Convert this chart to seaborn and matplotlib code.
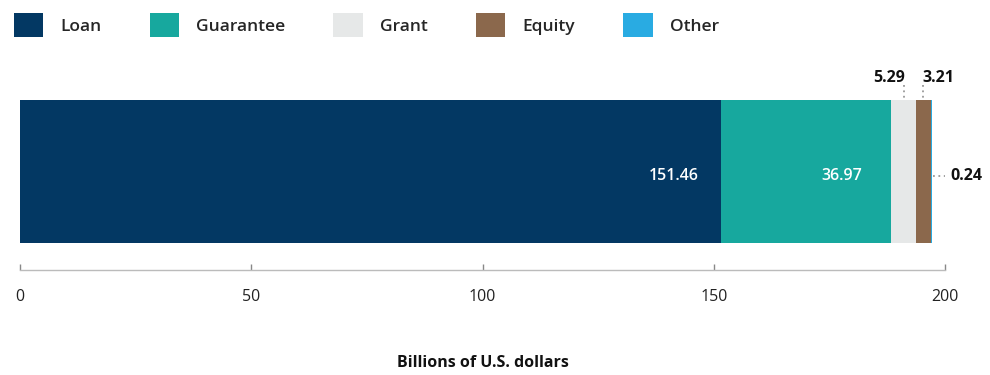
import matplotlib
matplotlib.use("Agg")
import matplotlib.pyplot as plt
import seaborn as sns
import pandas as pd
import numpy as np
from matplotlib.patches import Patch

categories = ["Loan", "Guarantee", "Grant", "Equity", "Other"]
values = [151.46, 36.97, 5.29, 3.21, 0.24]
colors = ["#033863", "#17a89e", "#e6e8e8", "#8b684c", "#29abe2"]
xticks = [0, 50, 100, 150, 200]
xlabel = "Billions of U.S. dollars"

sns.set_theme(style="white")
plt.rcParams["font.family"] = ["Open Sans", "DejaVu Sans"]

fig = plt.figure(figsize=(9.9, 3.75), dpi=100)
ax = fig.add_axes([20 / 990, 1 - 270 / 375, 925 / 990, 210 / 375])

cum = np.cumsum(values)
starts = cum - np.array(values)
df = pd.DataFrame({"cat": categories, "cum": cum, "row": ["all"] * len(categories)})

# painter's stacking: draw largest cumulative first
for i in range(len(categories) - 1, -1, -1):
    sns.barplot(data=df.iloc[[i]], x="cum", y="row", color=colors[i],
                orient="h", width=0.681, ax=ax, saturation=1, linewidth=0)

ax.set_xlim(0, 200)
ax.set_ylim(0.469, -0.531)
ax.set_xticks(xticks)
ax.set_xticklabels([str(t) for t in xticks], fontsize=11.5, color="#222222")
ax.set_yticks([])
ax.set_ylabel("")
ax.set_xlabel(xlabel, fontsize=11.5, fontweight="bold", color="#111111", labelpad=36)
for s in ["top", "right", "left"]:
    ax.spines[s].set_visible(False)
ax.spines["bottom"].set_color("#bbbbbb")
ax.spines["bottom"].set_linewidth(1.0)
ax.tick_params(axis="x", bottom=True, direction="in", length=4, width=1, color="#888888", pad=14)

bar_top = -0.681 / 2
dot = dict(linestyle=(0, (1, 2)), color="#999999", lw=1.3)
lab = dict(color="#111111", fontsize=11.5, fontweight="bold")
# inside labels
ax.annotate(f"{values[0]:.2f}", xy=(cum[0], 0.02), xytext=(-22, 0), textcoords="offset pixels",
            ha="right", va="center", color="white", fontsize=11.5, fontweight="semibold")
ax.annotate(f"{values[1]:.2f}", xy=(cum[1], 0.02), xytext=(-29, 0), textcoords="offset pixels",
            ha="right", va="center", color="white", fontsize=11.5, fontweight="semibold")
# Grant: above, right-aligned at dotted line
gx = starts[2] + values[2] / 2
ax.plot([gx, gx], [-0.412, -0.345], **dot)
ax.annotate(f"{values[2]:.2f}", xy=(gx, bar_top), xytext=(1, 22), textcoords="offset pixels",
            ha="right", va="center", **lab)
ex = starts[3] + values[3] / 2
ax.plot([ex, ex], [-0.412, -0.345], **dot)
ax.annotate(f"{values[3]:.2f}", xy=(ex, bar_top), xytext=(-1, 22), textcoords="offset pixels",
            ha="left", va="center", **lab)
ax.plot([cum[4] + 0.2, cum[4] + 3.2], [0.02, 0.02], **dot)
ax.annotate(f"{values[4]:.2f}", xy=(cum[4], 0.02), xytext=(18, 0), textcoords="offset pixels",
            ha="left", va="center", **lab)

handles = [Patch(facecolor=c, edgecolor="none") for c in colors]
fig.legend(handles, categories, loc="upper left", bbox_to_anchor=(0.007, 0.983), ncol=5,
           frameon=False, prop=dict(size=12.5, weight="semibold"), handlelength=1.7, handleheight=1.7,
           handletextpad=1.0, columnspacing=2.75, borderaxespad=0)

fig.savefig("out.png", dpi=100)
